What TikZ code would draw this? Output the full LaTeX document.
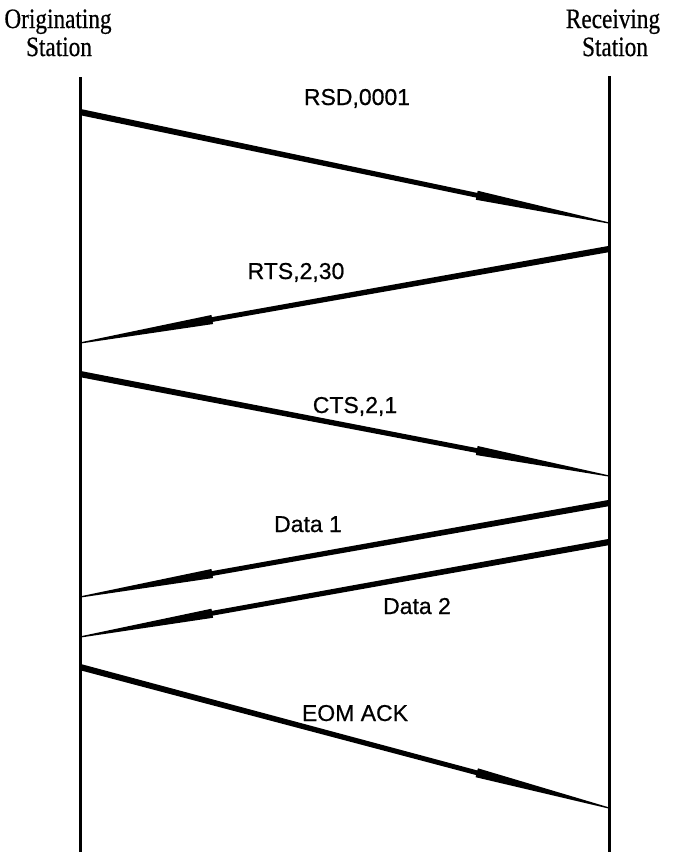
\documentclass[tikz,border=0pt]{standalone}
\usepackage{fontspec}
\setmainfont{Liberation Serif}[FakeStretch=0.83, FakeBold=0.5]
\newfontfamily\lblfont{Liberation Sans}[FakeBold=0.6]
\usetikzlibrary{calc}

\tikzset{
  lifeline/.style={line width=3pt},
  stationhead/.style={font=\fontsize{28}{28}\selectfont, inner sep=0pt, anchor=base},
  msglabel/.style={font=\lblfont\fontsize{23}{25}\selectfont, inner sep=0pt, anchor=base},
  msgbody/.style={fill=black},
}

% Tapered message arrow: thick at the sender, a small wedge-shaped head
% three quarters of the way along, thinning to a point at the receiver.
\newcommand\msgarrow[2]{%
  \path ($(#1)!0.75!(#2)$) coordinate (#1-#2-m);
  \fill[msgbody]
    ($(#1)!3.1pt!90:(#2)$) --
    ($(#1-#2-m)!2.4pt!90:(#2)$) --
    ($(#1-#2-m)!4.6pt!90:(#2)$) --
    ($(#2)!0.6pt!-90:(#1)$) --
    ($(#2)!0.6pt!90:(#1)$) --
    ($(#1-#2-m)!4.6pt!-90:(#2)$) --
    ($(#1-#2-m)!2.4pt!-90:(#2)$) --
    ($(#1)!3.1pt!-90:(#2)$) -- cycle;
}

\begin{document}
\begin{tikzpicture}[x=1pt,y=-1pt]
\useasboundingbox (0,0) rectangle (677,852);

% station headings
\node[stationhead] (ohead1) at (58,28) {Originating};
\node[stationhead] (ohead2) at (59,56) {Station};
\node[stationhead] (rhead1) at (613,28) {Receiving};
\node[stationhead] (rhead2) at (615,56) {Station};

% lifelines
\coordinate (otop) at (80,77);
\coordinate (obot) at (80,852);
\coordinate (rtop) at (609,76);
\coordinate (rbot) at (609,852);
\draw[lifeline] (otop) -- (obot);
\draw[lifeline] (rtop) -- (rbot);

% message end points on the lifelines
\coordinate (o1) at (80,112);  \coordinate (r1) at (609,223);
\coordinate (r2) at (609,249); \coordinate (o2) at (80,343);
\coordinate (o3) at (80,374);  \coordinate (r3) at (609,476);
\coordinate (r4) at (609,503); \coordinate (o4) at (80,597);
\coordinate (r5) at (609,542); \coordinate (o5) at (80,637);
\coordinate (o6) at (80,667);  \coordinate (r6) at (609,808);

% messages
\msgarrow{o1}{r1}
\msgarrow{r2}{o2}
\msgarrow{o3}{r3}
\msgarrow{r4}{o4}
\msgarrow{r5}{o5}
\msgarrow{o6}{r6}

% message labels
\node[msglabel] (l1) at (357,105) {RSD,0001};
\node[msglabel] (l2) at (296,279) {RTS,2,30};
\node[msglabel] (l3) at (355,413) {CTS,2,1};
\node[msglabel] (l4) at (308,532) {Data 1};
\node[msglabel] (l5) at (417,614) {Data 2};
\node[msglabel] (l6) at (355,721) {EOM ACK};
\end{tikzpicture}
\end{document}
